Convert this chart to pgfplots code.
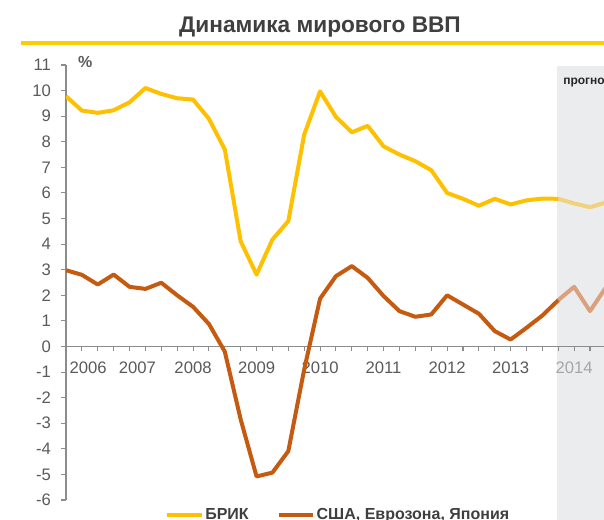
\documentclass[border=0pt]{standalone}
\usepackage{fontspec}
\setmainfont{Liberation Sans}
\usepackage{pgfplots}
\pgfplotsset{compat=1.18}
\usepackage{pgfplotstable}
\definecolor{brik}{HTML}{FFC000}
\definecolor{usa}{HTML}{C55A11}
\definecolor{brikf}{HTML}{EFD27A}
\definecolor{usaf}{HTML}{DBA07E}
\definecolor{shadecol}{HTML}{EBECEE}
\definecolor{axisgray}{HTML}{8C8C8C}
\definecolor{labgray}{HTML}{5A5A5A}
\definecolor{lightlab}{HTML}{A6A6A6}
\definecolor{titlegray}{HTML}{3F3F3F}
\definecolor{rulecol}{HTML}{FFCC00}

\pgfplotstableread{
x y
0 9.78
1 9.22
2 9.13
3 9.23
4 9.54
5 10.10
6 9.87
7 9.70
8 9.65
9 8.90
10 7.70
11 4.11
12 2.81
13 4.18
14 4.90
15 8.28
16 9.97
17 8.97
18 8.37
19 8.62
20 7.82
21 7.50
22 7.24
23 6.89
24 6.00
25 5.77
26 5.50
27 5.77
28 5.55
29 5.71
30 5.78
31 5.77
}\brik
\pgfplotstableread{
x y
31 5.77
32 5.59
33 5.44
34 5.63
}\brikf
\pgfplotstableread{
x y
0 2.98
1 2.80
2 2.42
3 2.81
4 2.33
5 2.25
6 2.49
7 2.00
8 1.55
9 0.88
10 -0.20
11 -2.85
12 -5.08
13 -4.93
14 -4.09
15 -0.90
16 1.87
17 2.75
18 3.14
19 2.68
20 1.97
21 1.38
22 1.16
23 1.25
24 2.00
25 1.64
26 1.28
27 0.60
28 0.27
29 0.73
30 1.21
31 1.81
}\usa
\pgfplotstableread{
x y
31 1.81
32 2.33
33 1.38
34 2.31
}\usaf

\begin{document}
\begin{tikzpicture}
\useasboundingbox (0,0) rectangle (453pt,390pt);
\clip (0,0) rectangle (453pt,390pt);
% forecast background
\fill[shadecol] (417.4pt,0pt) rectangle (453pt,340.5pt);
\node[anchor=west, font=\bfseries\fontsize{9}{9}\selectfont, text=black!85, inner sep=0pt] at (422.25pt,327.75pt) {прогноз};
% title
\node[anchor=base, font=\bfseries\fontsize{17}{17}\selectfont, text=titlegray, inner sep=0pt] at (240pt,365.25pt) {Динамика мирового ВВП};
\draw[rulecol, line width=2.5pt] (15.75pt,357.75pt) -- (453pt,357.75pt);
% percent sign
\node[font=\bfseries\fontsize{12}{12}\selectfont, text=labgray, inner sep=0pt] at (64pt,343.5pt) {\%};
\begin{axis}[
  at={(49.5pt,15pt)}, anchor=south west,
  scale only axis, width=403.5pt, height=326.25pt,
  xmin=0, xmax=33.88, ymin=-6, ymax=11,
  axis y line=left, axis x line=middle,
  axis line style={draw=axisgray, line width=0.8pt, -},
  ytick={-6,...,11},
  yticklabels={-6,-5,-4,-3,-2,-1,0,1,2,3,4,5,6,7,8,9,10,11},
  xtick={0,...,33}, xticklabels={},
  extra x ticks={1.4,4.5,8,12,16,20,24,28,32},
  extra x tick labels={2006,2007,2008,2009,2010,2011,2012,2013,\textcolor{lightlab}{2014}},
  extra x tick style={major tick length=0pt, tick label style={yshift=-8pt}},
  tick style={draw=axisgray, line width=0.8pt},
  major tick length=3.75pt,
  tick align=outside,
  tick label style={font=\fontsize{12.5}{12.5}\selectfont, text=labgray},
  yticklabel style={xshift=-4pt},
  hide obscured x ticks=false, hide obscured y ticks=false,
  legend columns=2,
  legend style={at={(0.184,-0.0345)}, anchor=west, draw=none, fill=none,
    inner sep=0pt, font=\bfseries\fontsize{12}{12}\selectfont, text=titlegray,
    nodes={inner sep=1pt},
    /tikz/every even column/.append style={column sep=20pt}},
  legend image code/.code={\draw[#1] (0pt,0pt) -- (26pt,0pt);},
  every axis plot/.append style={line width=3pt, line join=round},
]
\addplot[brikf, forget plot] table[x=x,y=y] {\brikf};
\addplot[usaf, forget plot] table[x=x,y=y] {\usaf};
\addplot[brik] table[x=x,y=y] {\brik};
\addlegendentry{БРИК}
\addplot[usa] table[x=x,y=y] {\usa};
\addlegendentry{США, Еврозона, Япония}
\end{axis}
\end{tikzpicture}
\end{document}
